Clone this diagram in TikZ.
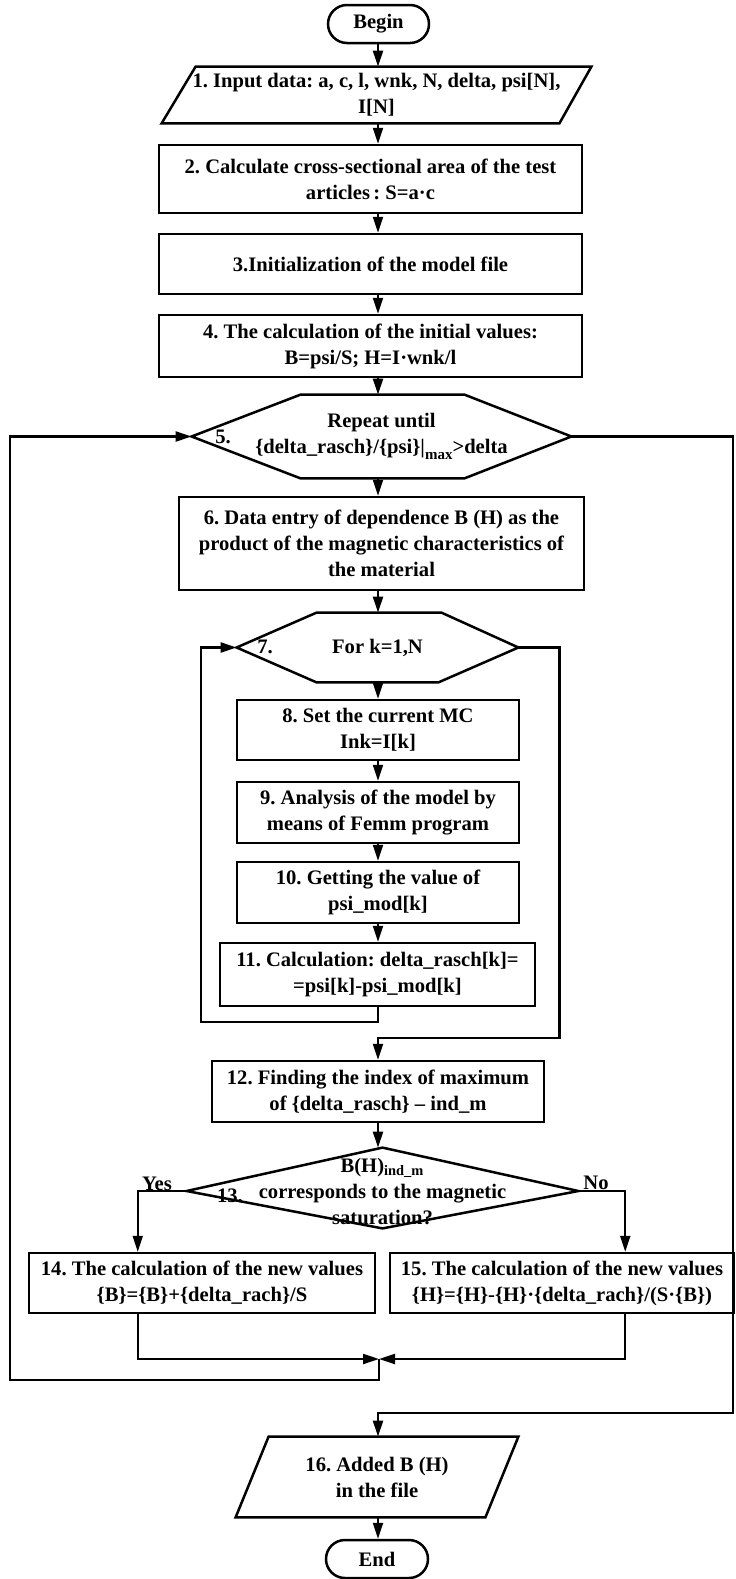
\documentclass[tikz,border=0pt]{standalone}
\usepackage{fontspec}
\setmainfont{Liberation Serif}
\usetikzlibrary{arrows.meta,calc}

\begin{document}
\frenchspacing
\begin{tikzpicture}[x=0.5pt,y=0.5pt]
\tikzstyle{every node}+=[inner sep=0pt, align=center, font=\bfseries\fontsize{10.3}{13}\selectfont]
\tikzstyle{box}=[draw, line width=1.25pt]
\tikzstyle{term}=[draw, line width=1.25pt, rounded corners=9.5pt, minimum width=50.5pt, minimum height=19pt]
\tikzstyle{shp}=[line width=1.25pt, line join=miter]
\tikzstyle{flow}=[line width=1.1pt, -{Triangle[length=8pt,width=5pt]}]
\useasboundingbox (0,0) rectangle (735,-1579);
\coordinate (col) at (378,0);
\node[term] (begin) at (378.5,-24) {Begin};
\node[minimum width=214.5pt, minimum height=28pt] (in1) at (376.5,-95) {1. Input data: a, c, l, wnk, N, delta, psi[N],\\I[N]};
\draw[shp] (in1.south west) -- ($(in1.north west)+(34,0)$) -- (in1.north east) -- ($(in1.south east)+(-32,0)$) -- cycle;
\node[box, minimum width=211.5pt, minimum height=34pt] (b2) at (370.5,-179) {2. Calculate cross-sectional area of the test\\articles\,: S=a·c};
\node[box, minimum width=211.5pt, minimum height=30pt] (b3) at (370.5,-264) {3.Initialization of the model file};
\node[box, minimum width=211.5pt, minimum height=31pt] (b4) at (370.5,-346) {4. The calculation of the initial values:\\B=psi/S; H=I·wnk/l};
\node[minimum width=189.5pt, minimum height=41.5pt] (h5) at (381.5,-436.5) {Repeat until\\\{delta\_rasch\}/\{psi\}|\raisebox{-0.7ex}{\fontsize{7.5}{8}\selectfont max}>delta};
\draw[shp] (h5.west) -- ($(h5.north west)+(109,0)$) -- ($(h5.north east)+(-107,0)$) -- (h5.east) -- ($(h5.south east)+(-107,0)$) -- ($(h5.south west)+(109,0)$) -- cycle;
\node (n5) at (223,-437) {5.};
\node[box, minimum width=202.5pt, minimum height=46.5pt] (b6) at (381.5,-543.5) {6. Data entry of dependence B (H) as the\\product of the magnetic characteristics of\\the material};
\node[minimum width=140.5pt, minimum height=34.5pt] (h7) at (377.5,-647.5) {For k=1,N};
\draw[shp] (h7.west) -- ($(h7.north west)+(80,0)$) -- ($(h7.north east)+(-77,0)$) -- (h7.east) -- ($(h7.south east)+(-80,0)$) -- ($(h7.south west)+(80,0)$) -- cycle;
\node (n7) at (265,-647) {7.};
\node[box, minimum width=141pt, minimum height=30pt] (b8) at (378,-730) {8. Set the current MC\\Ink=I[k]};
\node[box, minimum width=141pt, minimum height=30.5pt] (b9) at (378,-812.5) {9. Analysis of the model by\\means of Femm program};
\node[box, minimum width=141pt, minimum height=30.5pt] (b10) at (378,-892.5) {10. Getting the value of\\psi\_mod[k]};
\node[box, minimum width=157.5pt, minimum height=31.5pt] (b11) at (377.5,-974.5) {11. Calculation: delta\_rasch[k]=\\=psi[k]-psi\_mod[k]};
\node[box, minimum width=166pt, minimum height=30.5pt] (b12) at (378,-1091.5) {12. Finding the index of maximum\\of \{delta\_rasch\} -- ind\_m};
\node[minimum width=195.5pt, minimum height=43pt] (d13) at (382.5,-1191) {B(H)\textsubscript{ind\_m}\\corresponds to the magnetic\\saturation?};
\draw[shp] (d13.west) -- (d13.north) -- (d13.east) -- ($(d13.south)+(0,6)$) -- cycle;
\node (n13) at (230,-1196) {13.};
\node (yes) at (157,-1184) {Yes};
\node (no) at (596,-1183) {No};
\node[box, minimum width=173pt, minimum height=30pt] (b14) at (202,-1283) {14. The calculation of the new values\\\{B\}=\{B\}+\{delta\_rach\}/S};
\node[box, minimum width=172pt, minimum height=30pt] (b15) at (562,-1283) {15. The calculation of the new values\\\{H\}=\{H\}-\{H\}·\{delta\_rach\}/(S·\{B\})};
\node[minimum width=141pt, minimum height=40pt] (p16) at (377,-1477) {16. Added B (H)\\in the file};
\draw[shp] (p16.south west) -- ($(p16.north west)+(33,0)$) -- (p16.north east) -- ($(p16.south east)+(-33,0)$) -- cycle;
\node[term, minimum width=51pt] (end) at (377,-1559) {End};
\foreach \a/\b in {begin/in1, in1/b2, b2/b3, b3/b4, b4/h5, h5/b6, b6/h7, h7/b8, b8/b9, b9/b10, b10/b11, b12/d13, p16/end}
  \draw[flow] (\a.south -| col) -- (\b.north -| col);
\draw[flow] (b11.south -| col) |- ++(-177,-15) |- (h7.west);
\draw[flow] (h7.east) -| ++(41,-390.5) -| (b12.north -| col);
\draw[flow] (d13.west) -| ($(b14.north west)+(110,0)$);
\draw[flow] (d13.east) -| ($(b15.north east)+(-110,0)$);
\coordinate (m) at (379,-1359);
\draw[flow] ($(b14.south west)+(110,0)$) |- (m);
\draw[flow] ($(b15.south east)+(-110,0)$) |- (m);
\coordinate (lb) at (10,-1380);
\draw[flow] (m) |- (lb) |- (h5.west);
\coordinate (rb) at (733,-1413);
\draw[flow] (h5.east) -| (rb) -| (p16.north -| col);
\end{tikzpicture}
\end{document}
